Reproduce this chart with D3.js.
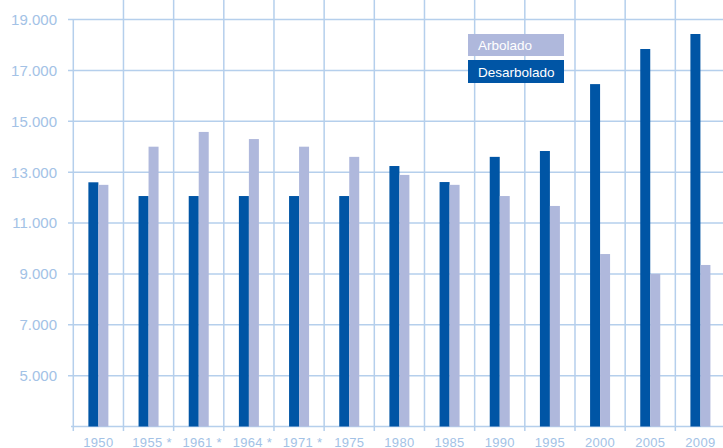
<!DOCTYPE html>
<html>
<head>
<meta charset="utf-8">
<script src="https://cdn.jsdelivr.net/npm/d3@7"></script>
<style>
  html, body { margin: 0; padding: 0; background: #fff; }
  svg { display: block; }
  text { font-family: "Liberation Sans", Arial, sans-serif; }
</style>
</head>
<body>
<svg id="chart" width="723" height="448"></svg>
<script>
// Superficie arbolada y desarbolada por año de inventario
const categories = ["1950", "1955*", "1961*", "1964*", "1971*", "1975", "1980", "1985", "1990", "1995", "2000", "2005", "2009"];
const desarbolado = [12600, 12060, 12060, 12060, 12060, 12060, 13240, 12610, 13600, 13830, 16460, 17840, 18430];
const arbolado    = [12500, 14000, 14580, 14300, 14000, 13600, 12890, 12500, 12060, 11670, 9780, 9000, 9350];
const yTicks = [5000, 7000, 9000, 11000, 13000, 15000, 17000, 19000];
const seriesNames = ["Arbolado", "Desarbolado"];

const colDark = "#0055a5";
const colLight = "#afb8dc";
const colGrid = "#b5cfec";
const colLabel = "#a3c2e6";

const svg = d3.select("#chart");

const x = d3.scaleBand().domain(categories).range([73.3, 725.5]).padding(0);
const y = d3.scaleLinear().domain([3000, 19000]).range([426.5, 19.5]);

const locale = d3.formatLocale({ decimal: ",", thousands: ".", grouping: [3], currency: ["", ""] });
const fmt = locale.format(",.0f");

// horizontal gridlines with short left ticks
svg.append("g").selectAll("line").data(yTicks).join("line")
  .attr("x1", 68).attr("x2", 723)
  .attr("y1", d => y(d)).attr("y2", d => y(d))
  .attr("stroke", colGrid).attr("stroke-width", 1.5);

// y tick labels
svg.append("g").selectAll("text").data(yTicks).join("text")
  .attr("x", 57).attr("y", d => y(d)).attr("dy", "0.36em")
  .attr("text-anchor", "end")
  .attr("fill", colLabel).attr("font-size", 15)
  .text(d => fmt(d));

// vertical separators between categories
const bounds = categories.map(c => x(c)).concat([x.range()[1]]);
svg.append("g").selectAll("line").data(bounds).join("line")
  .attr("x1", d => d).attr("x2", d => d)
  .attr("y1", (d, i) => i === 0 ? y(19000) : 0)
  .attr("y2", 431)
  .attr("stroke", colGrid).attr("stroke-width", 1.5);

// baseline
svg.append("line")
  .attr("x1", 71).attr("x2", 723)
  .attr("y1", y(3000)).attr("y2", y(3000))
  .attr("stroke", colGrid).attr("stroke-width", 1.5);

// bars
const bw = 10;
const barG = svg.append("g");
barG.selectAll("rect.d").data(categories).join("rect")
  .attr("class", "d")
  .attr("x", c => x(c) + x.bandwidth() / 2 - bw)
  .attr("width", bw)
  .attr("y", (c, i) => y(desarbolado[i]))
  .attr("height", (c, i) => y(3000) - y(desarbolado[i]))
  .attr("fill", colDark);
barG.selectAll("rect.a").data(categories).join("rect")
  .attr("class", "a")
  .attr("x", c => x(c) + x.bandwidth() / 2)
  .attr("width", bw)
  .attr("y", (c, i) => y(arbolado[i]))
  .attr("height", (c, i) => y(3000) - y(arbolado[i]))
  .attr("fill", colLight);

// x labels
svg.append("g").selectAll("text").data(categories).join("text")
  .attr("x", c => x(c) + x.bandwidth() / 2)
  .attr("dx", c => c.endsWith("*") ? 3.5 : 0)
  .attr("y", 446.5)
  .attr("text-anchor", "middle")
  .attr("fill", colLabel).attr("font-size", 13)
  .attr("letter-spacing", 0.3)
  .text(c => c.replace("*", " *"));

// legend
const legend = svg.append("g");
const legendItems = [
  { name: seriesNames[0], color: colLight, y: 34, h: 22, ty: 49.5 },
  { name: seriesNames[1], color: colDark, y: 60, h: 23, ty: 77.3 }
];
legendItems.forEach(it => {
  legend.append("rect").attr("x", 468).attr("y", it.y).attr("width", 96).attr("height", it.h).attr("fill", it.color);
  legend.append("text").attr("x", 478).attr("y", it.ty).attr("fill", "#fff").attr("font-size", 13.5).text(it.name);
});
</script>
</body>
</html>
